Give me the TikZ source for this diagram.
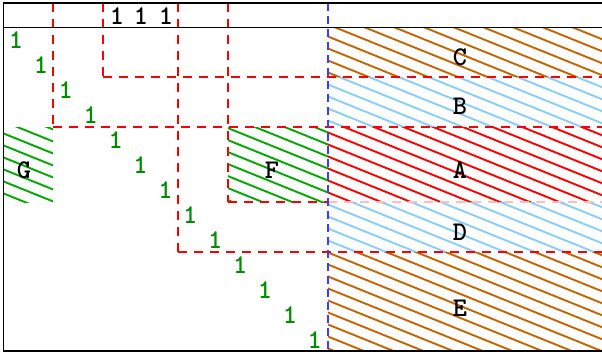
\documentclass[tikz,border=0pt]{standalone}
\definecolor{hbrown}{RGB}{200,100,0}
\definecolor{hblue}{RGB}{135,206,250}
\definecolor{hred}{RGB}{255,0,0}
\definecolor{hgreen}{RGB}{0,170,0}
\definecolor{tgreen}{RGB}{0,140,0}
\definecolor{dblue}{RGB}{60,60,255}
\definecolor{dred}{RGB}{255,0,0}
\definecolor{pink}{RGB}{255,190,190}
\tikzset{
  hline/.style={color=#1,line width=1.9pt},
  reddash/.style={color=dred,line width=1.1pt,dash pattern=on 9pt off 7pt},
  bluedash/.style={color=dblue,line width=1.4pt,dash pattern=on 8pt off 5pt},
  frame/.style={color=black,line width=1.5pt},
  lbl/.style={inner sep=0pt,font=\fontsize{27}{27}\selectfont\ttfamily\bfseries},
  one/.style={lbl,text=tgreen},
}
\newcommand\myhatch[5]{%
  \begin{scope}
    \clip (#2,#3) rectangle (#4,#5);
    \foreach \k in {-22,...,32}{
      \draw[hline=#1] (0,-12*\k) -- (602,-12*\k-243.2);
    }
  \end{scope}}
\begin{document}
\begin{tikzpicture}[x=1pt,y=1pt]
\useasboundingbox (0,0) rectangle (602,-354);
% hatched regions
\myhatch{hbrown}{328}{-28}{602}{-77}
\myhatch{hblue}{328}{-77}{602}{-127}
\myhatch{hred}{328}{-127}{602}{-202}
\myhatch{hblue}{328}{-202}{602}{-252}
\myhatch{hbrown}{328}{-252}{602}{-351}
\myhatch{hgreen}{228}{-127}{328}{-202}
\myhatch{hgreen}{3}{-127}{53}{-202}
% red dashed lines
\begin{scope}[reddash]
\draw (53,-3) -- (53,-127);
\draw (103,-3) -- (103,-77);
\draw (178,-3) -- (178,-252);
\draw (228,-3) -- (228,-202);
\draw (103,-77) -- (602,-77);
\draw (53,-127) -- (602,-127);
\draw (228,-202) -- (328,-202);
\draw[color=pink] (328,-202) -- (602,-202);
\draw (178,-252) -- (602,-252);
\end{scope}
% blue dashed vertical
\draw[bluedash] (328,-3) -- (328,-351);
% frame
\draw[frame] (602,-3) -- (3.5,-3) -- (3.5,-351) -- (602,-351);
\draw[frame] (3.5,-27.5) -- (602,-27.5);
% header ones
\node[lbl] (h1) at (117,-16) {1};
\node[lbl] (h2) at (141,-16) {1};
\node[lbl] (h3) at (166,-16) {1};
% diagonal ones
\foreach \i in {0,...,12}{
  \node[one] (d\i) at (16+24.9*\i,-40.5-25*\i) {1};
}
% region labels
\node[lbl] (C) at (460,-57) {C};
\node[lbl] (B) at (460,-106) {B};
\node[lbl] (A) at (460,-170) {A};
\node[lbl] (D) at (460,-232) {D};
\node[lbl] (E) at (460,-308) {E};
\node[lbl] (F) at (272,-170) {F};
\node[lbl] (G) at (24,-170) {G};
\end{tikzpicture}
\end{document}
